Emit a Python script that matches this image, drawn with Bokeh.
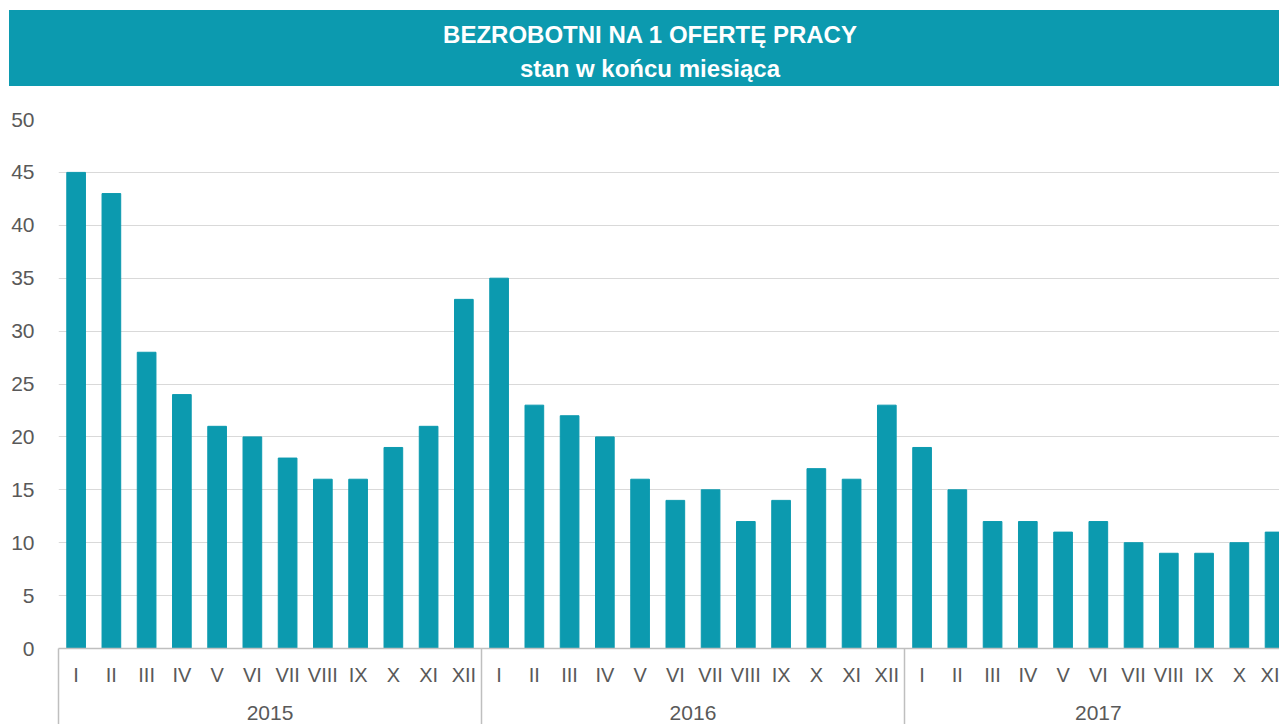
from bokeh.plotting import figure
from bokeh.models import (Range1d, LinearAxis, FixedTicker, Div, ColumnDataSource)
from bokeh.layouts import column
from bokeh.embed import file_html
from bokeh.resources import INLINE

# ---- data ----
years = ["2015", "2016", "2017"]
months = ["I", "II", "III", "IV", "V", "VI", "VII", "VIII", "IX", "X", "XI", "XII"]
values_2015 = [45, 43, 28, 24, 21, 20, 18, 16, 16, 19, 21, 33]
values_2016 = [35, 23, 22, 20, 16, 14, 15, 12, 14, 17, 16, 23]
values_2017 = [19, 15, 12, 12, 11, 12, 10, 9, 9, 10, 11]
title_line1 = "BEZROBOTNI NA 1 OFERTĘ PRACY"
title_line2 = "stan w końcu miesiąca"
y_ticks = [0, 5, 10, 15, 20, 25, 30, 35, 40, 45, 50]

TEAL = "#0C9AAF"
GRAY_TXT = "#595959"
FONT = "Liberation Sans"

series = [values_2015, values_2016, values_2017]
x, top, labels = [], [], []
group_bounds, group_centers = [], []
pos = 0
for yr, vals in zip(years, series):
    group_bounds.append(pos)
    group_centers.append(pos + len(vals) / 2)
    for i, v in enumerate(vals):
        x.append(pos + i + 0.5)
        top.append(v)
        labels.append(months[i])
    pos += len(vals)

src = ColumnDataSource(dict(x=x, top=top))

banner = Div(
    text=(f'<div style="box-sizing:border-box;width:1270px;height:76px;padding-top:8px;'
          f'padding-left:12px;line-height:34px;text-align:center;'
          f'font-family:\'{FONT}\';font-weight:bold;font-size:24px;color:white;">'
          f'{title_line1}<br>{title_line2}</div>'),
    width=1270, height=76, margin=(10, 0, 0, 9),
    styles={"background-color": TEAL},
)

p = figure(width=1279, height=638, output_backend="svg", toolbar_location=None,
           x_range=Range1d(0, 34.64), y_range=Range1d(0, 50),
           x_axis_type=None, min_border_left=58, min_border_right=0,
           min_border_top=33, min_border_bottom=76, margin=0)
p.outline_line_color = None
p.xgrid.visible = False

p.vbar(x="x", top="top", width=0.53, source=src, color=TEAL)

# y axis
p.yaxis.ticker = FixedTicker(ticks=y_ticks)
p.yaxis.axis_line_color = None
p.yaxis.major_tick_line_color = None
p.yaxis.minor_tick_line_color = None
p.yaxis.major_label_text_font = FONT
p.yaxis.major_label_text_font_size = "21px"
p.yaxis.major_label_text_color = GRAY_TXT
p.yaxis.major_label_standoff = 18
p.ygrid.grid_line_color = "#D9D9D9"
p.ygrid.ticker = FixedTicker(ticks=y_ticks)

# month axis
month_axis = LinearAxis(
    ticker=FixedTicker(ticks=x),
    major_label_overrides={xv: lab for xv, lab in zip(x, labels)},
)
month_axis.axis_line_color = "#BFBFBF"
month_axis.axis_line_width = 1.5
month_axis.major_tick_line_color = None
month_axis.minor_tick_line_color = None
month_axis.major_tick_in = 0
month_axis.major_tick_out = 0
month_axis.major_label_standoff = 15
month_axis.major_label_text_font = FONT
month_axis.major_label_text_font_size = "20px"
month_axis.major_label_text_color = GRAY_TXT
p.add_layout(month_axis, "below")

# year axis
year_axis = LinearAxis(
    ticker=FixedTicker(ticks=group_centers),
    major_label_overrides={c: y for c, y in zip(group_centers, years)},
)
year_axis.axis_line_color = None
year_axis.major_tick_line_color = None
year_axis.minor_tick_line_color = None
year_axis.major_tick_in = 0
year_axis.major_tick_out = 0
year_axis.major_label_standoff = 17
year_axis.major_label_text_font = FONT
year_axis.major_label_text_font_size = "21px"
year_axis.major_label_text_color = GRAY_TXT
p.add_layout(year_axis, "below")

# separator axis (outermost): group dividers drawn as minor ticks
sep_axis = LinearAxis(
    ticker=FixedTicker(ticks=[], minor_ticks=[b + 0.001 for b in group_bounds]),
)
sep_axis.axis_line_color = None
sep_axis.major_tick_line_color = None
sep_axis.major_tick_in = 0
sep_axis.major_tick_out = 0
sep_axis.minor_tick_line_color = "#BFBFBF"
sep_axis.minor_tick_line_width = 1.5
sep_axis.minor_tick_in = 74
sep_axis.minor_tick_out = 2
sep_axis.major_label_standoff = 0
sep_axis.major_label_text_font_size = "0px"
p.add_layout(sep_axis, "below")

layout = column(banner, p, spacing=0)
open("out.html", "w").write(file_html(layout, INLINE))
